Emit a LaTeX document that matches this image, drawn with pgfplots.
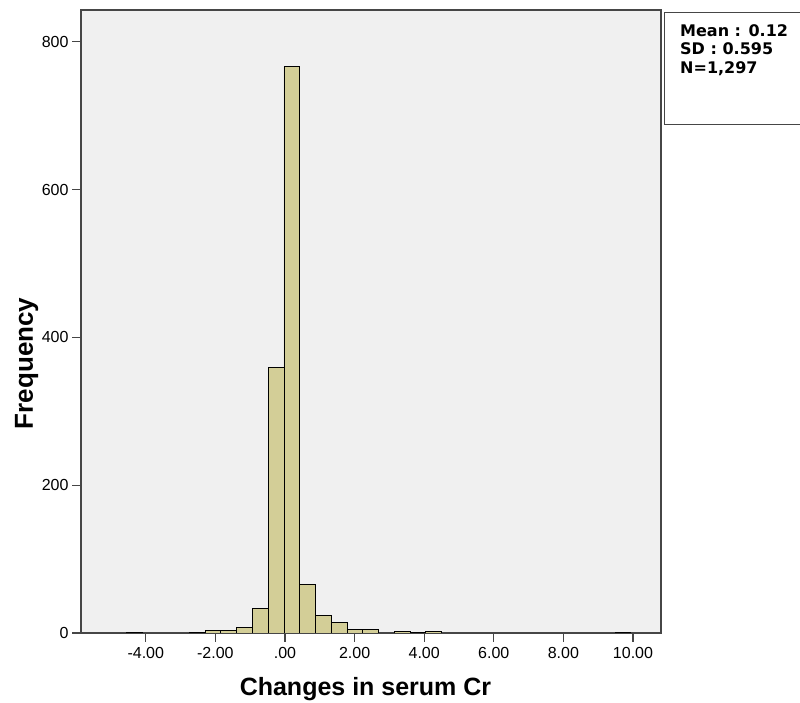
\documentclass[border=0pt]{standalone}
\usepackage{fontspec}
\setmainfont{Liberation Sans}
\newfontfamily\boxfont{DejaVu Sans}
\usepackage{pgfplots}
\pgfplotsset{compat=1.18}
\definecolor{barfill}{RGB}{211,206,151}
\definecolor{plotbg}{RGB}{240,240,240}
\definecolor{framec}{RGB}{70,70,70}

\begin{document}
\begin{tikzpicture}[x=1pt,y=1pt]
\useasboundingbox (0,0) rectangle (800,703);
\begin{axis}[at={(81pt,70pt)},anchor=south west,scale only axis,
  width=580pt,height=623pt,
  xmin=-5.862,xmax=10.805,ymin=0,ymax=843,
  axis background/.style={fill=plotbg},
  axis line style={framec,line width=1.2pt},
  xtick={-4,-2,0,2,4,6,8,10},
  xticklabels={-4.00,-2.00,.00,2.00,4.00,6.00,8.00,10.00},
  ytick={0,200,400,600,800},
  xtick pos=bottom,ytick pos=left,
  tick align=outside,major tick length=9pt,
  tick style={framec,line width=1.2pt},
  tick label style={font=\fontsize{16}{16}\selectfont},
  xticklabel style={yshift=-2pt},
  /pgf/number format/assume math mode=true,
  xlabel={Changes in serum Cr},ylabel={Frequency},
  xlabel style={font=\bfseries\fontsize{25}{25}\selectfont,
    at={(axis description cs:0.4905,-0.1004)},anchor=base},
  ylabel style={font=\bfseries\fontsize{26}{26}\selectfont,
    at={(axis description cs:-0.0828,0.4326)},anchor=base},
  ybar,bar width=0.453,bar shift=0pt]
\addplot[fill=barfill,draw=black,line width=0.8pt] coordinates {
 (-4.3335,1) (-2.5215,1) (-2.0685,3) (-1.6155,4) (-1.1625,7)
 (-0.7095,33) (-0.2565,359) (0.1965,766) (0.6495,66) (1.1025,24)
 (1.5555,14) (2.0085,5) (2.4615,5) (3.3675,2) (3.8205,1)
 (4.2735,2) (9.7095,1)};
\end{axis}
\draw[framec,line width=0.8pt] (664,579) rectangle (806,691);
\begin{scope}[every node/.style={anchor=base west,inner sep=0pt,
  font=\boxfont\bfseries\fontsize{16}{16}\selectfont}]
\node at (680,666) {Mean : 0.12};
\node at (680,648) {SD : 0.595};
\node at (680,629) {N=1,297};
\end{scope}
\end{tikzpicture}
\end{document}
